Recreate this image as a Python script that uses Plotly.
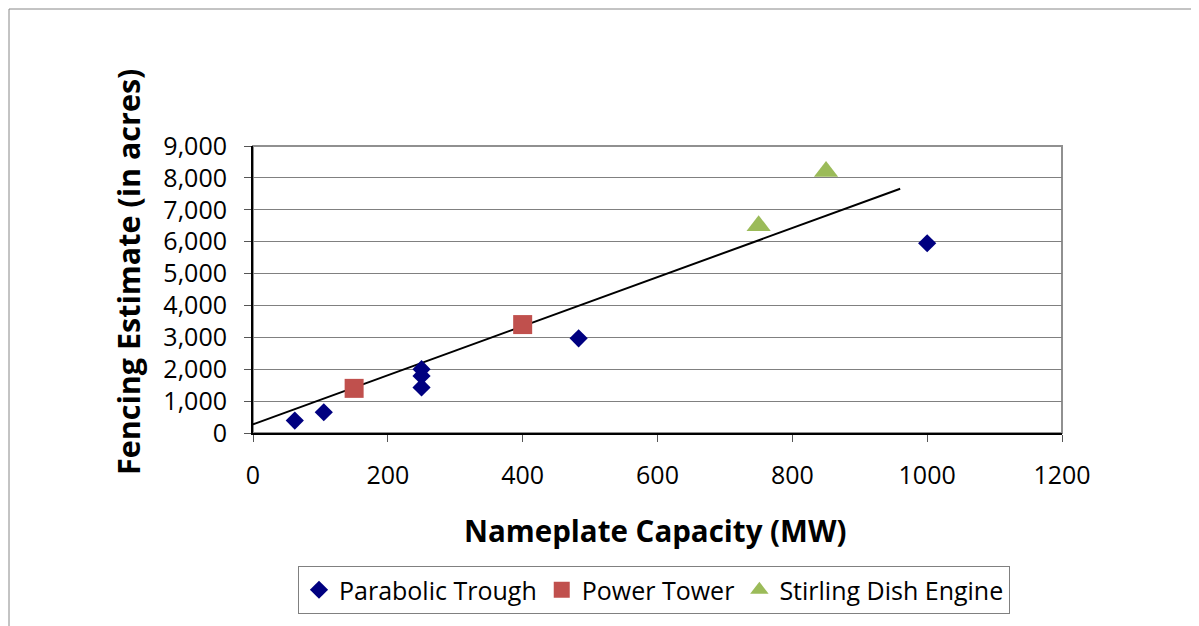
import plotly.graph_objects as go

# ---- data ----
trough_x = [62, 105, 250, 250, 250, 483, 1000]
trough_y = [390, 650, 2000, 1790, 1430, 2970, 5950]
tower_x = [150, 400]
tower_y = [1400, 3400]
dish_x = [750, 850]
dish_y = [6500, 8200]
trend_x = [0, 960]
trend_y = [270, 7660]

x_ticks = [0, 200, 400, 600, 800, 1000, 1200]
y_ticks = [0, 1000, 2000, 3000, 4000, 5000, 6000, 7000, 8000, 9000]

FONT = "Open Sans"

fig = go.Figure()
fig.add_trace(go.Scatter(x=trend_x, y=trend_y, mode="lines",
                         line=dict(color="black", width=2),
                         showlegend=False, hoverinfo="skip"))
fig.add_trace(go.Scatter(x=trough_x, y=trough_y, mode="markers", name="Parabolic Trough",
                         marker=dict(symbol="diamond", size=14, color="#000080")))
fig.add_trace(go.Scatter(x=tower_x, y=tower_y, mode="markers", name="Power Tower",
                         marker=dict(symbol="square", size=19, color="#C0504D")))
fig.add_trace(go.Scatter(x=dish_x, y=dish_y, mode="markers", name="Stirling Dish Engine",
                         marker=dict(symbol="triangle-up", size=21, color="#9BBB59")))

# screen-pixel geometry of the plot area (page body has an 8px margin)
OFF = 8
L, R, T, B = 253, 1062, 146, 433
W, H = 1199, 626
pw, ph = R - L, B - T

def px(x):
    return (x - L) / pw

def py(y):
    return (B - y) / ph

fig.update_layout(
    width=W, height=H,
    margin=dict(l=L - OFF, r=W - (R - OFF), t=T - OFF, b=H - (B - OFF), pad=0),
    paper_bgcolor="white", plot_bgcolor="white",
    font=dict(family=FONT, color="black"),
    xaxis=dict(range=[0, 1200], tickvals=x_ticks, showgrid=False, zeroline=False,
               showline=True, linecolor="black", linewidth=2,
               ticks="outside", ticklen=7, tickcolor="#555555",
               tickfont=dict(size=25, family=FONT), ticklabelstandoff=12,
               fixedrange=True),
    yaxis=dict(range=[0, 9000], tickvals=y_ticks, tickformat=",", showgrid=True,
               gridcolor="#808080", gridwidth=1, zeroline=False,
               showline=True, linecolor="black", linewidth=2,
               ticks="outside", ticklen=7, tickcolor="#555555",
               tickfont=dict(size=25, family=FONT), ticklabelstandoff=12,
               fixedrange=True),
    legend=dict(orientation="h", x=px(654), xanchor="center", y=py(566), yanchor="top",
                bordercolor="#808080", borderwidth=1, bgcolor="white",
                font=dict(size=25, family=FONT), itemwidth=30),
    shapes=[
        dict(type="rect", xref="paper", yref="paper", x0=0, x1=1, y0=0, y1=1,
             line=dict(color="#909090", width=2), layer="below"),
        dict(type="rect", xref="paper", yref="paper", x0=px(OFF + 1), x1=px(1230),
             y0=py(OFF + 1), y1=py(660),
             line=dict(color="#888888", width=1), layer="below"),
    ],
    annotations=[
        dict(text="<b>Nameplate Capacity (MW)</b>", xref="paper", yref="paper",
             x=px(655), y=py(530), xanchor="center", yanchor="middle", showarrow=False,
             font=dict(size=29.5, family=FONT)),
        dict(text="<b>Fencing Estimate (in acres)</b>", xref="paper", yref="paper",
             x=px(128), y=py(272), xanchor="center", yanchor="middle", showarrow=False,
             textangle=-90, font=dict(size=30.5, family=FONT)),
    ],
)

fig.write_html("out.html")
